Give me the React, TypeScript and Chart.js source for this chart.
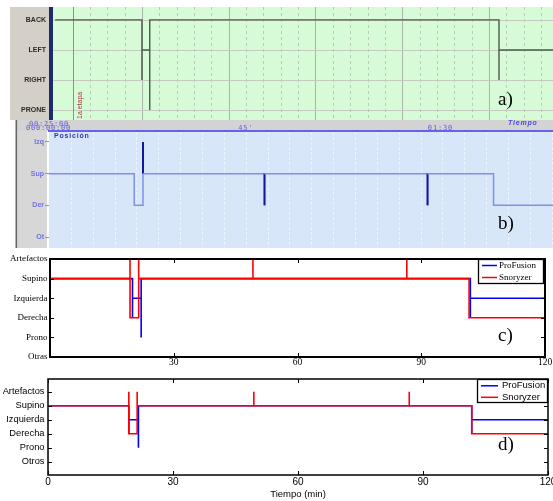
import React, { useEffect, useRef } from 'react';
import { Chart, registerables } from 'chart.js';

Chart.register(...registerables);

// ---------------- Data ----------------
// a) ProFusion position channel (minutes)
const A_LEVELS = ['PRONE', 'RIGHT', 'LEFT', 'BACK'];
const A_TIMES = [0, 20.0, 20.0, 21.8, 21.8, 102.3, 102.3, 115];
const A_STATES = ['BACK', 'RIGHT', 'LEFT', 'PRONE', 'BACK', 'RIGHT', 'LEFT', 'LEFT'];
const A_MARKER = 4.1;
const A_MARKER_LABEL = '1a etapa';

// b) Snoryzer position channel (minutes)
const B_LEVELS = ['Ot', 'Der', 'Sup', 'Izq'];
const B_TIMES = [0, 19.5, 21.5, 21.5, 49.3, 49.3, 86.6, 86.6, 101.7, 116];
const B_STATES = ['Sup', 'Der', 'Izq', 'Sup', 'Der', 'Sup', 'Der', 'Sup', 'Der', 'Der'];
const B_TITLE = 'Posición';
const B_HEADER = ['00:25:00', '000:00:00'];
const B_TIME_TICKS = [45, 90];
const B_TIME_LABELS = ["45'", '01:30'];
const B_AXIS_NAME = 'Tiempo';

// c) comparison (serif figure)
const C_LEVELS = ['Otras', 'Prono', 'Derecha', 'Izquierda', 'Supino', 'Artefactos'];
const C_PRO_TIMES = [0, 20.0, 20.0, 22.1, 22.1, 101.9, 101.9, 120];
const C_PRO_STATES = ['Supino', 'Derecha', 'Izquierda', 'Prono', 'Supino', 'Derecha', 'Izquierda', 'Izquierda'];
const C_SNO_TIMES = [0, 19.4, 19.4, 21.5, 21.5, 49.2, 49.2, 86.5, 86.5, 101.6, 120];
const C_SNO_STATES = ['Supino', 'Artefactos', 'Derecha', 'Artefactos', 'Supino', 'Artefactos', 'Supino', 'Artefactos', 'Supino', 'Derecha', 'Derecha'];
const C_X_LABELS = ['', '30', '60', '90', '120'];

// d) comparison (sans figure)
const D_LEVELS = ['Otros', 'Prono', 'Derecha', 'Izquierda', 'Supino', 'Artefactos'];
const D_PRO_TIMES = [0, 19.4, 19.4, 21.7, 21.7, 101.7, 101.7, 120];
const D_PRO_STATES = ['Supino', 'Derecha', 'Izquierda', 'Prono', 'Supino', 'Derecha', 'Izquierda', 'Izquierda'];
const D_SNO_TIMES = [0, 19.4, 19.4, 21.4, 21.4, 49.4, 49.4, 86.7, 86.7, 101.7, 120];
const D_SNO_STATES = ['Supino', 'Artefactos', 'Derecha', 'Artefactos', 'Supino', 'Artefactos', 'Supino', 'Artefactos', 'Supino', 'Derecha', 'Derecha'];
const D_X_LABELS = ['0', '30', '60', '90', '120'];

const X_TICKS = [0, 30, 60, 90, 120];
const SERIES = ['ProFusion', 'Snoryzer'];
const X_TITLE = 'Tiempo (min)';

// ---------------- helpers ----------------
const steps = (times: number[], states: string[], levels: string[]) =>
  times.map((t, i) => ({ x: t, y: levels.indexOf(states[i]) }));

const SERIF = '"Liberation Serif", "Times New Roman", serif';
const SANS = '"Liberation Sans", Arial, sans-serif';

const letterPlugin = (text: string, x: number, y: number) => ({
  id: 'letter',
  afterDraw(chart: any) {
    const ctx = chart.ctx;
    ctx.save();
    ctx.font = '19px ' + SERIF;
    ctx.fillStyle = '#000';
    ctx.textAlign = 'left';
    ctx.textBaseline = 'alphabetic';
    ctx.fillText(text, x, y);
    ctx.restore();
  },
});

const framePlugin = (lw: number, tick: number) => ({
  id: 'frame',
  afterDatasetsDraw(chart: any) {
    const { ctx, chartArea: a, scales } = chart;
    ctx.save();
    ctx.strokeStyle = '#000';
    ctx.lineWidth = 1;
    ctx.beginPath();
    scales.x.ticks.forEach((t: any) => {
      const px = Math.round(scales.x.getPixelForValue(t.value)) + 0.5;
      ctx.moveTo(px, a.bottom);
      ctx.lineTo(px, a.bottom - tick);
      ctx.moveTo(px, a.top);
      ctx.lineTo(px, a.top + tick);
    });
    scales.y.ticks.forEach((t: any) => {
      const py = Math.round(scales.y.getPixelForValue(t.value)) + 0.5;
      ctx.moveTo(a.left, py);
      ctx.lineTo(a.left + tick, py);
      ctx.moveTo(a.right, py);
      ctx.lineTo(a.right - tick, py);
    });
    ctx.stroke();
    ctx.lineWidth = lw;
    ctx.strokeRect(a.left, a.top, a.right - a.left, a.bottom - a.top);
    ctx.restore();
  },
});

const legendPlugin = (
  box: { x: number; y: number; w: number; h: number },
  lineX: [number, number],
  textX: number,
  rows: number[],
  font: string
) => ({
  id: 'legendBox',
  afterDraw(chart: any) {
    const ctx = chart.ctx;
    ctx.save();
    ctx.fillStyle = '#fff';
    ctx.fillRect(box.x, box.y, box.w, box.h);
    ctx.strokeStyle = '#000';
    ctx.lineWidth = 1.3;
    ctx.strokeRect(box.x + 0.5, box.y + 0.5, box.w - 1, box.h - 1);
    chart.data.datasets.forEach((ds: any, i: number) => {
      ctx.strokeStyle = ds.borderColor;
      ctx.lineWidth = 1.5;
      ctx.beginPath();
      ctx.moveTo(lineX[0], rows[i]);
      ctx.lineTo(lineX[1], rows[i]);
      ctx.stroke();
      ctx.fillStyle = '#000';
      ctx.font = font;
      ctx.textAlign = 'left';
      ctx.textBaseline = 'middle';
      ctx.fillText(ds.label, textX, rows[i]);
    });
    ctx.restore();
  },
});

const baseOptions = (padding: any) => ({
  responsive: false,
  animation: false as const,
  devicePixelRatio: 1,
  layout: { padding },
  plugins: { legend: { display: false }, tooltip: { enabled: false } },
});

// ---------------- panel a ----------------
function configA(): any {
  const aPlugin = {
    id: 'panelA',
    beforeDraw(chart: any) {
      const { ctx, chartArea: ca } = chart;
      const h = ca.bottom - ca.top;
      ctx.save();
      ctx.fillStyle = '#d4d0c8';
      ctx.fillRect(10, ca.top, 39, h);
      ctx.fillStyle = '#1d2b6c';
      ctx.fillRect(49, ca.top, 4, h);
      ctx.fillStyle = '#d7fbd7';
      ctx.fillRect(ca.left, ca.top, ca.right - ca.left, h);
      ctx.restore();
    },
    beforeDatasetsDraw(chart: any) {
      const { ctx, chartArea: ca, scales } = chart;
      const x = scales.x;
      const y = scales.y;
      ctx.save();
      ctx.lineWidth = 1;
      for (let t = 4; t <= x.max; t += 4) {
        const px = Math.round(x.getPixelForValue(t)) + 0.5;
        const major = t % 20 === 0;
        ctx.strokeStyle = major ? '#a8b6a8' : '#bccbbc';
        ctx.setLineDash(major ? [] : [3, 3]);
        ctx.beginPath();
        ctx.moveTo(px, ca.top);
        ctx.lineTo(px, ca.bottom);
        ctx.stroke();
      }
      ctx.setLineDash([]);
      ctx.strokeStyle = '#c2cac2';
      A_LEVELS.forEach((_, i) => {
        const py = Math.round(y.getPixelForValue(i)) + 0.5;
        ctx.beginPath();
        ctx.moveTo(ca.left, py);
        ctx.lineTo(ca.right, py);
        ctx.stroke();
      });
      const mx = Math.round(x.getPixelForValue(A_MARKER)) + 0.5;
      ctx.strokeStyle = '#8c928c';
      ctx.beginPath();
      ctx.moveTo(mx, ca.top);
      ctx.lineTo(mx, ca.bottom);
      ctx.stroke();
      ctx.translate(mx + 8, ca.bottom - 1);
      ctx.rotate(-Math.PI / 2);
      ctx.font = '7px ' + SANS;
      ctx.fillStyle = '#a43a3a';
      ctx.textBaseline = 'alphabetic';
      ctx.fillText(A_MARKER_LABEL, 0, 0);
      ctx.restore();
    },
  };
  return {
    type: 'line',
    data: {
      datasets: [
        {
          label: 'ProFusion',
          data: steps(A_TIMES, A_STATES, A_LEVELS),
          borderColor: '#4a5a4a',
          borderWidth: 1.4,
          stepped: true,
          pointRadius: 0,
          fill: false,
        },
      ],
    },
    options: {
      ...baseOptions({ top: 7, right: 0, bottom: 0, left: 0 }),
      scales: {
        x: { type: 'linear', min: -0.5, max: 114.75, display: false },
        y: {
          type: 'linear',
          min: -0.33,
          max: 3.43,
          afterBuildTicks: (s: any) => {
            s.ticks = A_LEVELS.map((_, i) => ({ value: i }));
          },
          afterFit: (s: any) => {
            s.width = 53;
            s.paddingTop = 0;
            s.paddingBottom = 0;
          },
          ticks: {
            callback: (v: any) => A_LEVELS[v],
            font: { family: SANS, size: 7, weight: 'bold' },
            color: '#2a2a2a',
            padding: 7,
            autoSkip: false,
          },
          grid: { display: false, drawTicks: false },
          border: { display: false },
        },
      },
    },
    plugins: [aPlugin, letterPlugin('a)', 498, 105)],
  };
}

// ---------------- panel b ----------------
function configB(): any {
  const bPlugin = {
    id: 'panelB',
    beforeDraw(chart: any) {
      const { ctx, chartArea: ca, scales } = chart;
      ctx.save();
      ctx.fillStyle = '#d3d3d3';
      ctx.fillRect(17, 2, 536, 11);
      ctx.fillStyle = '#d7d7d7';
      ctx.fillRect(17, 13, 30, ca.bottom - 13);
      ctx.fillStyle = '#666';
      ctx.fillRect(15.5, 2, 1.6, ca.bottom - 2);
      ctx.fillStyle = '#ffffff';
      ctx.fillRect(47, ca.top, 2, ca.bottom - ca.top);
      ctx.fillStyle = '#d7e7f9';
      ctx.fillRect(ca.left, ca.top, ca.right - ca.left, ca.bottom - ca.top);
      ctx.fillStyle = '#6464ea';
      ctx.fillRect(48, ca.top - 1, 505, 2);
      // header texts
      ctx.fillStyle = '#6a5ae6';
      ctx.font = '7px "DejaVu Sans Mono", monospace';
      (ctx as any).letterSpacing = '0.8px';
      ctx.textBaseline = 'middle';
      ctx.textAlign = 'left';
      ctx.fillText(B_HEADER[0], 29, 6.5);
      ctx.fillText(B_HEADER[1], 26, 10.5);
      ctx.textAlign = 'center';
      B_TIME_TICKS.forEach((t, i) => {
        ctx.fillText(B_TIME_LABELS[i], scales.x.getPixelForValue(t) - (i === 1 ? 2 : 0), 10);
      });
      ctx.textAlign = 'left';
      ctx.font = 'italic bold 7px ' + SANS;
      ctx.fillStyle = '#4848e0';
      ctx.fillText(B_AXIS_NAME, 508, 5);
      ctx.restore();
    },
    beforeDatasetsDraw(chart: any) {
      const { ctx, chartArea: ca, scales } = chart;
      ctx.save();
      ctx.strokeStyle = '#eef4fd';
      ctx.lineWidth = 1;
      ctx.setLineDash([3, 2]);
      for (let t = 5; t <= scales.x.max; t += 5) {
        const px = Math.round(scales.x.getPixelForValue(t)) + 0.5;
        ctx.beginPath();
        ctx.moveTo(px, ca.top + 1);
        ctx.lineTo(px, ca.bottom);
        ctx.stroke();
      }
      ctx.setLineDash([]);
      ctx.fillStyle = '#3434b0';
      ctx.font = 'bold 7px ' + SANS;
      (ctx as any).letterSpacing = '0.8px';
      ctx.textBaseline = 'middle';
      ctx.fillText(B_TITLE, 54, ca.top + 5.5);
      ctx.restore();
    },
  };
  return {
    type: 'line',
    data: {
      datasets: [
        {
          label: 'Snoryzer',
          data: steps(B_TIMES, B_STATES, B_LEVELS),
          borderColor: '#8494ec',
          borderWidth: 1.5,
          stepped: true,
          pointRadius: 0,
          fill: false,
          segment: {
            borderColor: (c: any) => (Math.abs(c.p0.x - c.p1.x) < 0.5 ? '#16169c' : '#8090ea'),
            borderWidth: (c: any) => (Math.abs(c.p0.x - c.p1.x) < 0.5 ? 2 : 1.5),
          },
        },
      ],
    },
    options: {
      ...baseOptions({ top: 13, right: 0, bottom: 0, left: 0 }),
      scales: {
        x: { type: 'linear', min: 0, max: 115.3, display: false },
        y: {
          type: 'linear',
          min: -0.347,
          max: 3.347,
          afterBuildTicks: (s: any) => {
            s.ticks = B_LEVELS.map((_, i) => ({ value: i }));
          },
          afterFit: (s: any) => {
            s.width = 49;
            s.paddingTop = 0;
            s.paddingBottom = 0;
          },
          ticks: {
            callback: (v: any) => B_LEVELS[v],
            font: { family: SANS, size: 7, weight: 'bold' },
            color: '#7070e4',
            padding: 1,
            autoSkip: false,
          },
          grid: { display: true, drawOnChartArea: false, drawTicks: true, tickLength: 4, color: '#8a8ae6' },
          border: { display: false },
        },
      },
    },
    plugins: [bPlugin, letterPlugin('b)', 498, 111)],
  };
}

// ---------------- panels c, d ----------------
function configCompare(p: {
  levels: string[];
  pro: { x: number; y: number }[];
  sno: { x: number; y: number }[];
  xLabels: string[];
  family: string;
  size: number;
  ySize: number;
  padding: any;
  yWidth: number;
  xHeight: number;
  yMin: number;
  yMax: number;
  yPad: number;
  xPad: number;
  frameLw: number;
  title?: string;
  legend: any;
  letter: [string, number, number];
}): any {
  return {
    type: 'line',
    data: {
      datasets: [
        {
          label: SERIES[0],
          data: p.pro,
          borderColor: '#0000ff',
          borderWidth: 1.6,
          stepped: true,
          pointRadius: 0,
          fill: false,
          order: 1,
        },
        {
          label: SERIES[1],
          data: p.sno,
          borderColor: '#ff0000',
          borderWidth: 1.6,
          stepped: true,
          pointRadius: 0,
          fill: false,
          order: 0,
        },
      ],
    },
    options: {
      ...baseOptions(p.padding),
      scales: {
        x: {
          type: 'linear',
          min: 0,
          max: 120,
          afterBuildTicks: (s: any) => {
            s.ticks = X_TICKS.map((v) => ({ value: v }));
          },
          afterFit: (s: any) => {
            s.height = p.xHeight;
            s.paddingLeft = 0;
            s.paddingRight = 0;
          },
          ticks: {
            callback: (_v: any, i: number) => p.xLabels[i],
            font: { family: p.family, size: p.size },
            color: '#000',
            padding: p.xPad,
            maxRotation: 0,
            autoSkip: false,
          },
          title: p.title
            ? { display: true, text: p.title, font: { family: SANS, size: 9.5 }, color: '#000', padding: { top: 0, bottom: 1 } }
            : { display: false },
          grid: { display: false, drawTicks: false },
          border: { display: false },
        },
        y: {
          type: 'linear',
          min: p.yMin,
          max: p.yMax,
          afterBuildTicks: (s: any) => {
            s.ticks = p.levels.map((_, i) => ({ value: i }));
          },
          afterFit: (s: any) => {
            s.width = p.yWidth;
            s.paddingTop = 0;
            s.paddingBottom = 0;
          },
          ticks: {
            callback: (v: any) => p.levels[v],
            font: { family: p.family, size: p.ySize },
            color: '#000',
            padding: p.yPad,
            autoSkip: false,
          },
          grid: { display: false, drawTicks: false },
          border: { display: false },
        },
      },
    },
    plugins: [
      framePlugin(p.frameLw, 4),
      legendPlugin(p.legend.box, p.legend.lineX, p.legend.textX, p.legend.rows, p.legend.font),
      letterPlugin(p.letter[0], p.letter[1], p.letter[2]),
    ],
  };
}

function configC(): any {
  return configCompare({
    levels: C_LEVELS,
    pro: steps(C_PRO_TIMES, C_PRO_STATES, C_LEVELS),
    sno: steps(C_SNO_TIMES, C_SNO_STATES, C_LEVELS),
    xLabels: C_X_LABELS,
    family: SERIF,
    size: 9.5,
    ySize: 9,
    padding: { top: 9, right: 8, bottom: 0, left: 0 },
    yWidth: 50,
    xHeight: 18,
    yMin: 0,
    yMax: 5,
    yPad: 2.5,
    xPad: 0,
    frameLw: 2,
    legend: {
      box: { x: 478, y: 9, w: 66, h: 25 },
      lineX: [482, 497],
      textX: 499,
      rows: [15.5, 27.5],
      font: '9px ' + SERIF,
    },
    letter: ['c)', 498, 91],
  });
}

function configD(): any {
  return configCompare({
    levels: D_LEVELS,
    pro: steps(D_PRO_TIMES, D_PRO_STATES, D_LEVELS),
    sno: steps(D_SNO_TIMES, D_SNO_STATES, D_LEVELS),
    xLabels: D_X_LABELS,
    family: SANS,
    size: 10,
    ySize: 9.3,
    padding: { top: 4, right: 5, bottom: 0, left: 0 },
    yWidth: 48,
    xHeight: 26,
    yMin: -0.93,
    yMax: 5.9,
    yPad: 3.5,
    xPad: 1,
    frameLw: 1.5,
    title: X_TITLE,
    legend: {
      box: { x: 477, y: 4, w: 71, h: 24 },
      lineX: [481, 498],
      textX: 502,
      rows: [10.8, 22.3],
      font: '9.5px ' + SANS,
    },
    letter: ['d)', 498, 75],
  });
}

// ---------------- component ----------------
const PANELS = [
  { top: 0, height: 120, make: configA },
  { top: 118, height: 130, make: configB },
  { top: 250, height: 125, make: configC },
  { top: 375, height: 126, make: configD },
];

export default function App() {
  const refs = useRef<(HTMLCanvasElement | null)[]>([]);

  useEffect(() => {
    const charts = PANELS.map((p, i) => new Chart(refs.current[i] as HTMLCanvasElement, p.make()));
    return () => charts.forEach((c) => c.destroy());
  }, []);

  return (
    <div style={{ position: 'absolute', left: 0, top: 0, width: 553, height: 501, background: '#fff', overflow: 'hidden' }}>
      {PANELS.map((p, i) => (
        <canvas
          key={i}
          ref={(el) => {
            refs.current[i] = el;
          }}
          width={553}
          height={p.height}
          style={{ position: 'absolute', left: 0, top: p.top, width: 553, height: p.height, display: 'block' }}
        />
      ))}
    </div>
  );
}
